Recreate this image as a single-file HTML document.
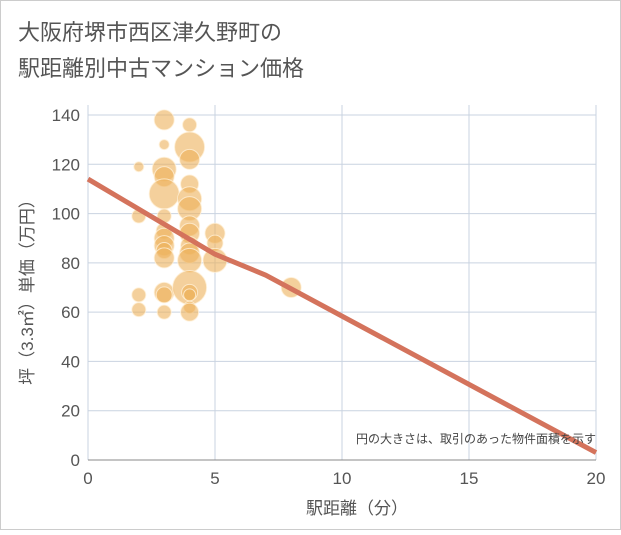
<!DOCTYPE html>
<html><head><meta charset="utf-8"><style>
body{margin:0;background:#fff;font-family:"Liberation Sans","Noto Sans CJK JP",sans-serif}
</style></head><body>
<svg width="621" height="530" id="c" style="font-family:'Liberation Sans','Noto Sans CJK JP',sans-serif">
<rect x="0.5" y="0.5" width="620" height="529" fill="#fff" stroke="#ccc"/>
<text x="18" y="40" font-size="22" fill="#555">大阪府堺市西区津久野町の</text>
<text x="18" y="76" font-size="22" fill="#555">駅距離別中古マンション価格</text>
<g id="grid"></g>
<g id="bubbles"></g>
<g id="trend"></g>
<g id="axes"></g>
<text x="596" y="443" font-size="12" fill="#444" text-anchor="end">円の大きさは、取引のあった物件面積を示す</text>
<text x="357" y="514" font-size="17" fill="#555" text-anchor="middle">駅距離（分）</text>
<text transform="translate(33,288) rotate(-90)" font-size="17" fill="#555" text-anchor="middle">坪（3.3㎡）単価（万円）</text>
</svg>
<script>
const xTicks=[0,5,10,15,20];
const yTicks=[0,20,40,60,80,100,120,140];
const bx=[2,2,2,2,3,3,3,3,3,3,3,3,3,3,3,3,3,3,4,4,4,4,4,4,4,4,4,4,4,4,4,4,4,4,5,5,5,8];
const by=[119,99,67,61,138,128,118,115,108,99,93,90,87,85,82,68,67,60,136,127,122,112,106,102,95,92,87,84,81,70,68,67,62,60,92,88,81,70];
const br=[5,7,7,7,10,5,12,10,15,7,8,10,10,8,10,10,8,7,7,15,10,9,12,12,10,10,9,10,12,17,8,6,6,9,10,8,12,10];
const tx=[0,5,7,20];
const ty=[114,83.5,75,3];
const NS='http://www.w3.org/2000/svg';
const X=v=>88+v*(596-88)/20, Y=v=>460-v*(460-115)/140;
function mk(t,a,p){const e=document.createElementNS(NS,t);for(const k in a)e.setAttribute(k,a[k]);p.appendChild(e);return e;}
const g=document.getElementById('grid'),ax=document.getElementById('axes');
xTicks.forEach(v=>{const l=mk('line',{x1:X(v),x2:X(v),y1:105,y2:460,stroke:'#c9d3e0'},g);


const t=mk('text',{x:X(v),y:484,'font-size':17,fill:'#555','text-anchor':'middle'},ax);t.textContent=v;

});
yTicks.forEach(v=>{const l=mk('line',{x1:88,x2:596,y1:Y(v),y2:Y(v),stroke:'#c9d3e0'},g);


const t=mk('text',{x:80,y:Y(v)+6,'font-size':17,fill:'#555','text-anchor':'end'},ax);t.textContent=v;

});
const xl=mk('line',{x1:88,x2:596,y1:460,y2:460,stroke:'#888'},ax);


const b=document.getElementById('bubbles');
bx.forEach((v,i)=>{const c=mk('circle',{cx:X(v),cy:Y(by[i]),r:br[i],fill:'rgba(236,176,90,0.6)',stroke:'rgba(255,240,215,0.8)','stroke-width':1},b);

});
const p=mk('polyline',{points:tx.map((v,i)=>X(v)+','+Y(ty[i])).join(' '),fill:'none',stroke:'#d4735c','stroke-width':5,'stroke-linejoin':'round'},document.getElementById('trend'));


</script>
</body></html>
